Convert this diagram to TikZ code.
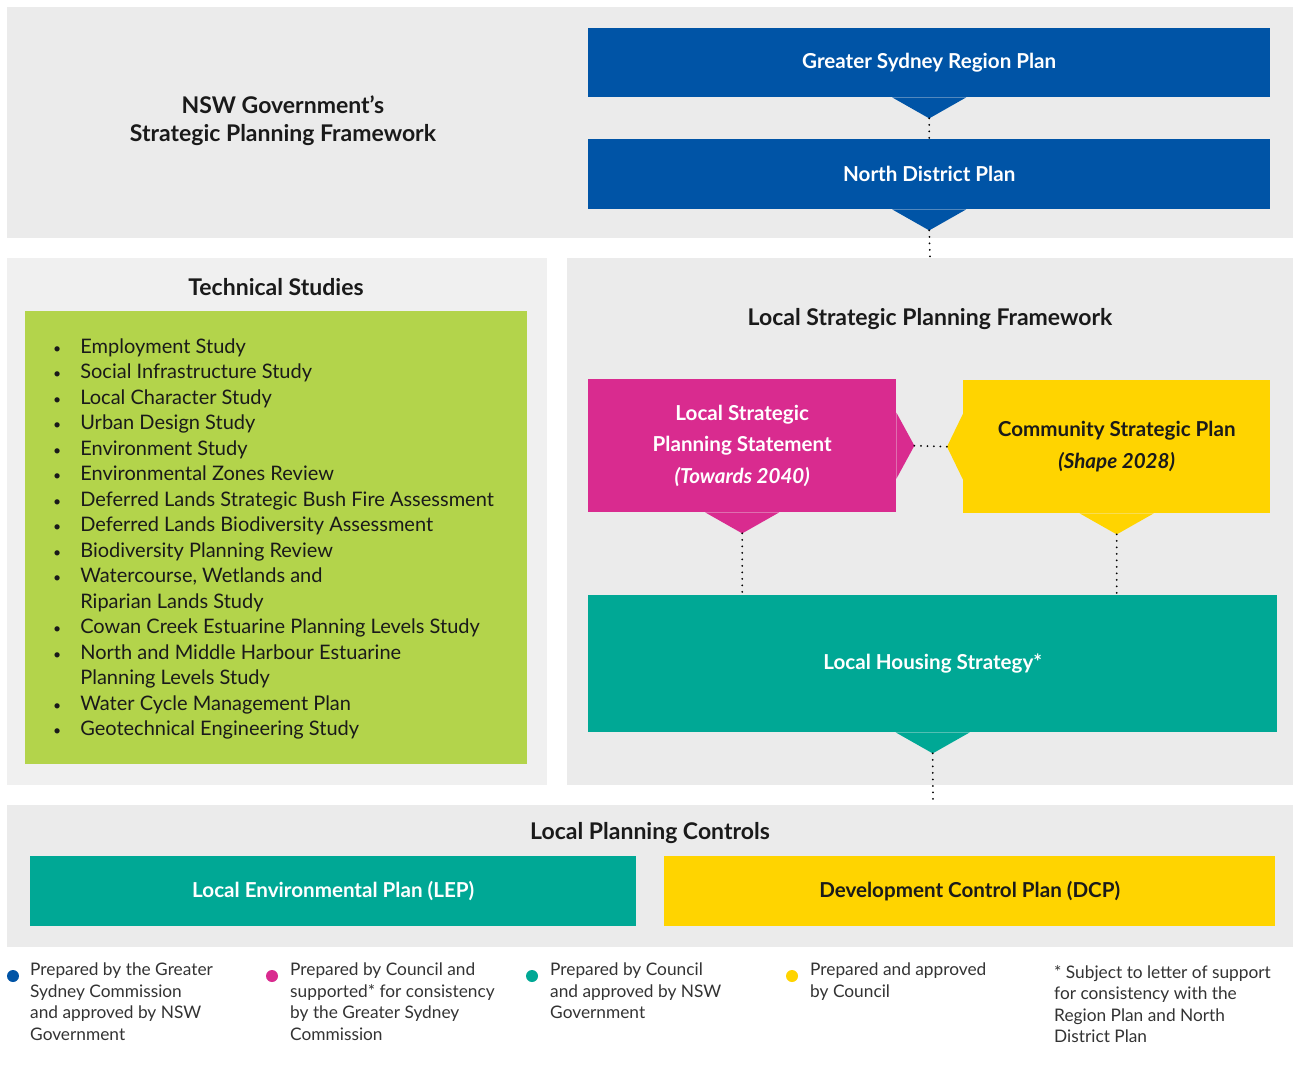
\documentclass[tikz,border=0pt]{standalone}
\usepackage{fontspec}
\setmainfont{Lato}
\usepackage{xcolor}
\usetikzlibrary{positioning}
\definecolor{NSW-BLUE}{HTML}{0054A6}
\definecolor{LSPS-PINK}{HTML}{D92B8F}
\definecolor{CSP-YELLOW}{HTML}{FFD400}
\definecolor{LHS-TEAL}{HTML}{00A895}
\definecolor{TS-GREEN}{HTML}{B3D44B}
\definecolor{PANEL-GREY}{HTML}{EBEBEB}
\definecolor{TS-GREY}{HTML}{F0F0F0}
\definecolor{INK}{HTML}{1A1A1A}
\definecolor{NOTE}{HTML}{333333}

% pointer under a box, tip stored as a coordinate
\newcommand{\tipdown}[3]{%
	\fill[#2] ([xshift=-37pt]#1.south) -- ([xshift=37pt]#1.south) -- ([yshift=-21pt]#1.south) -- cycle;
	\coordinate (#3) at ([yshift=-21pt]#1.south);}
\newcommand{\sbul}{{\fontsize{14}{14}\selectfont\textbullet}}

\tikzset{
	panel/.style={fill=PANEL-GREY},
	planbox/.style={anchor=north west,inner sep=0pt,align=center,font=\fontsize{20.6}{31.5}\selectfont\bfseries},
	heading/.style={text=INK,align=center,font=\fontsize{23}{28}\selectfont\bfseries},
	keydot/.style={circle,inner sep=0pt,minimum size=12pt},
	keytext/.style={anchor=north west,inner sep=0pt,align=left,text=NOTE,font=\fontsize{17.3}{21.5}\selectfont},
	link/.style={line width=2pt,line cap=round,dash pattern=on 0pt off 6.5pt}
}

\begin{document}
\begin{tikzpicture}[x=1pt,y=-1pt]
	\useasboundingbox[fill=white] (0,0) rectangle (1293,1086);

	% draw panels
	\fill[panel] (7,7) rectangle (1293,238);
	\fill[TS-GREY] (7,258) rectangle (547,785);
	\fill[panel] (567,258) rectangle (1293,785);
	\fill[panel] (7,805) rectangle (1293,947);

	% state plans
	\node (nsw) at (283,121) [heading] {NSW Government’s\\Strategic Planning Framework};
	\node (gsrp) at (588,28) [planbox,fill=NSW-BLUE,text=white,minimum width=682pt,minimum height=69pt] {Greater Sydney Region Plan};
	\node (ndp) at (588,139) [planbox,fill=NSW-BLUE,text=white,minimum width=682pt,minimum height=70pt] {North District Plan};
	\tipdown{gsrp}{NSW-BLUE}{gsrp tip}
	\tipdown{ndp}{NSW-BLUE}{ndp tip}

	% technical studies
	\node (ts title) at (276,287) [heading] {Technical Studies};
	\fill[TS-GREEN] (25,311) rectangle (527,764);
	\node (studies) at (53,335) [anchor=north west,inner sep=0pt,text=INK,font=\fontsize{20}{25.5}\selectfont] {%
		\begin{tabular}{@{}l@{\hspace{19pt}}l@{}}
			\sbul & Employment Study\\
			\sbul & Social Infrastructure Study\\
			\sbul & Local Character Study\\
			\sbul & Urban Design Study\\
			\sbul & Environment Study\\
			\sbul & Environmental Zones Review\\
			\sbul & Deferred Lands Strategic Bush Fire Assessment\\
			\sbul & Deferred Lands Biodiversity Assessment\\
			\sbul & Biodiversity Planning Review\\
			\sbul & Watercourse, Wetlands and\\
			      & Riparian Lands Study\\
			\sbul & Cowan Creek Estuarine Planning Levels Study\\
			\sbul & North and Middle Harbour Estuarine\\
			      & Planning Levels Study\\
			\sbul & Water Cycle Management Plan\\
			\sbul & Geotechnical Engineering Study
		\end{tabular}};

	% local strategic planning framework
	\node (lspf title) at (930,319) [heading] {Local Strategic Planning Framework};
	\node (lsps) at (588,379) [planbox,fill=LSPS-PINK,text=white,minimum width=308pt,minimum height=133pt] {Local Strategic\\Planning Statement\\\itshape(Towards 2040)};
	\node (csp) at (963,380) [planbox,fill=CSP-YELLOW,text=INK,minimum width=307pt,minimum height=133pt] {Community Strategic Plan\\\itshape(Shape 2028)};
	\fill[LSPS-PINK] ([yshift=33pt]lsps.east) -- ([xshift=18pt]lsps.east) -- ([yshift=-33pt]lsps.east) -- cycle;
	\fill[CSP-YELLOW] ([yshift=33pt]csp.west) -- ([xshift=-16pt]csp.west) -- ([yshift=-33pt]csp.west) -- cycle;
	\coordinate (lsps tip) at ([xshift=18pt]lsps.east);
	\coordinate (csp tip) at ([xshift=-16pt]csp.west);
	\tipdown{lsps}{LSPS-PINK}{lsps low}
	\tipdown{csp}{CSP-YELLOW}{csp low}
	\node (lhs) at (588,595) [planbox,fill=LHS-TEAL,text=white,minimum width=689pt,minimum height=137pt] {Local Housing Strategy*};
	\tipdown{lhs}{LHS-TEAL}{lhs tip}

	% local planning controls
	\node (lpc title) at (650,833) [heading] {Local Planning Controls};
	\node (lep) at (30,856) [planbox,fill=LHS-TEAL,text=white,minimum width=606pt,minimum height=70pt] {Local Environmental Plan (LEP)};
	\node (dcp) at (664,856) [planbox,fill=CSP-YELLOW,text=INK,minimum width=611pt,minimum height=70pt] {Development Control Plan (DCP)};

	% draw dotted links
	\draw[link] (gsrp tip) -- (ndp.north);
	\draw[link] (ndp tip) -- (930,258);
	\draw[link] (lsps tip) -- (csp tip);
	\draw[link] (lsps low) -- (lsps low |- lhs.north);
	\draw[link] (csp low) -- (csp low |- lhs.north);
	\draw[link] (lhs tip) -- (933,805);

	% draw key
	\node (key blue) at (13,976) [keydot,fill=NSW-BLUE] {};
	\node (key pink) at (272,976) [keydot,fill=LSPS-PINK] {};
	\node (key teal) at (532,976) [keydot,fill=LHS-TEAL] {};
	\node (key yellow) at (792,976) [keydot,fill=CSP-YELLOW] {};
	\node (note blue) at (30,963) [keytext] {Prepared by the Greater\\Sydney Commission\\and approved by NSW\\Government};
	\node (note pink) at (290,963) [keytext] {Prepared by Council and\\supported* for consistency\\by the Greater Sydney\\Commission};
	\node (note teal) at (550,963) [keytext] {Prepared by Council\\and approved by NSW\\Government};
	\node (note yellow) at (810,963) [keytext] {Prepared and approved\\by Council};
	\node (note star) at (1054,965) [keytext] {* Subject to letter of support\\for consistency with the\\Region Plan and North\\District Plan};
\end{tikzpicture}
\end{document}
